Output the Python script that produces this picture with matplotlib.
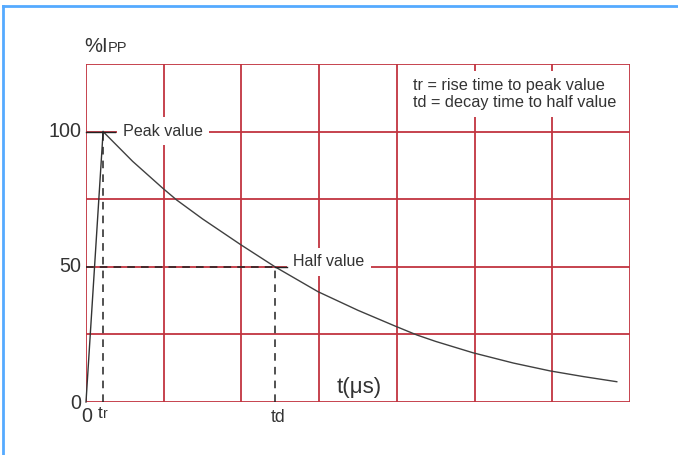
import matplotlib
matplotlib.use("Agg")
import matplotlib.pyplot as plt
from matplotlib.lines import Line2D

plt.rcParams['font.family'] = ['Liberation Sans', 'DejaVu Sans']

# ---- data ----
t_rise = 0.22           # tr (grid units)
t_decay = 2.43          # td (grid units)
peak_value = 100
half_value = 50
curve_t = [0.22, 0.6, 0.99, 1.167, 1.5, 1.995, 2.432, 2.985, 3.5, 3.976,
           4.256, 4.5, 4.98, 5.5, 5.971, 6.4, 6.83]
curve_y = [100, 89.0, 79.0, 74.7, 67.7, 58.1, 50.0, 40.8, 33.9, 28.1,
           24.8, 22.4, 18.2, 14.4, 11.5, 9.4, 7.5]
x_grid = [0, 1, 2, 3, 4, 5, 6, 7]
y_grid = [0, 25, 50, 75, 100, 125]
y_labels = ["0", "50", "100"]
y_label_vals = [0, 50, 100]

W, H = 678, 455
fig = plt.figure(figsize=(W / 100, H / 100), dpi=100)
fig.patch.set_facecolor('white')

# axes placement (pixels: left 86, right 630, top 64, bottom 402)
ax = fig.add_axes([86 / W, (H - 402) / H, (630 - 86) / W, (402 - 64) / H])
ax.set_xlim(x_grid[0], x_grid[-1])
ax.set_ylim(y_grid[0], y_grid[-1])
for s in ax.spines.values():
    s.set_visible(False)
ax.set_xticks([])
ax.set_yticks([])

grid_color = '#C23440'
for xv in x_grid:
    ax.axvline(xv, color=grid_color, lw=1.3, zorder=1)
for yv in y_grid:
    ax.axhline(yv, color=grid_color, lw=1.3, zorder=1)

ink = '#222222'
# rise and decay curve (drawn above the label boxes)
ax.plot([0, t_rise], [0, peak_value], color='#333333', lw=1.0, zorder=8, clip_on=False)
ax.plot(curve_t, curve_y, color='#404040', lw=1.0, zorder=8)

# peak marker line
ax.plot([0, 0.37], [peak_value, peak_value], color=ink, lw=1.0, zorder=8, clip_on=False)
# dashed guides
dash = dict(color=ink, lw=1.1, ls=(0, (5, 4)), zorder=8)
ax.plot([t_rise, t_rise], [0, peak_value], **dash)
ax.plot([0, t_decay], [half_value, half_value], **dash)
ax.plot([t_decay, t_decay], [0, half_value], **dash)
ax.plot([t_decay, 2.59], [half_value, half_value], color=ink, lw=1.0, zorder=8)

txt = '#333333'
box = dict(facecolor='white', edgecolor='none', boxstyle='square,pad=0.4')
ax.text(0.476, 100.2, "Peak value", fontsize=11.6, color=txt, ha='left', va='center',
        bbox=box, zorder=6)
ax.text(2.664, 51.8, "Half value", fontsize=11.5, color=txt, ha='left', va='center',
        bbox=box, zorder=6)
ax.text(4.208, 113.9, "tr = rise time to peak value\ntd = decay time to half value",
        fontsize=11.7, color=txt, ha='left', va='center', linespacing=1.1,
        bbox=dict(facecolor='white', edgecolor='none', boxstyle='square,pad=0.45'),
        zorder=6)

# y labels
for lab, v in zip(y_labels, y_label_vals):
    ax.text(-0.064, v + (-0.4 if v == 0 else 0), lab, fontsize=14.2, color=txt,
            ha='right', va='center', clip_on=False)
# y axis title
ax.text(-0.026, 129.5, "%I", fontsize=14.5, color=txt, ha='left', va='baseline', clip_on=False)
ax.text(0.28, 129.5, "PP", fontsize=10.5, color=txt, ha='left', va='baseline', clip_on=False)

# x labels
ax.text(0.01, -5.4, "0", fontsize=14.2, color=txt, ha='center', va='center', clip_on=False)
ax.text(0.18, -4.1, "t", fontsize=12.5, color=txt, ha='center', va='center', clip_on=False)
ax.text(0.245, -4.6, "r", fontsize=10, color=txt, ha='center', va='center', clip_on=False)
ax.text(2.47, -5.6, "td", fontsize=12.8, color=txt, ha='center', va='center', clip_on=False)
ax.text(3.51, 5.5, "t(μs)", fontsize=16, color=txt, ha='center', va='center', zorder=6)

# light blue frame (top and left edges)
blue = '#55AAFF'
fig.add_artist(Line2D([2.5 / W, 1.0], [1 - 5.5 / H, 1 - 5.5 / H],
                      transform=fig.transFigure, color=blue, lw=2.0))
fig.add_artist(Line2D([2.5 / W, 2.5 / W], [0, 1 - 5.5 / H],
                      transform=fig.transFigure, color=blue, lw=2.0))

fig.savefig("out.png", dpi=100, facecolor='white')
